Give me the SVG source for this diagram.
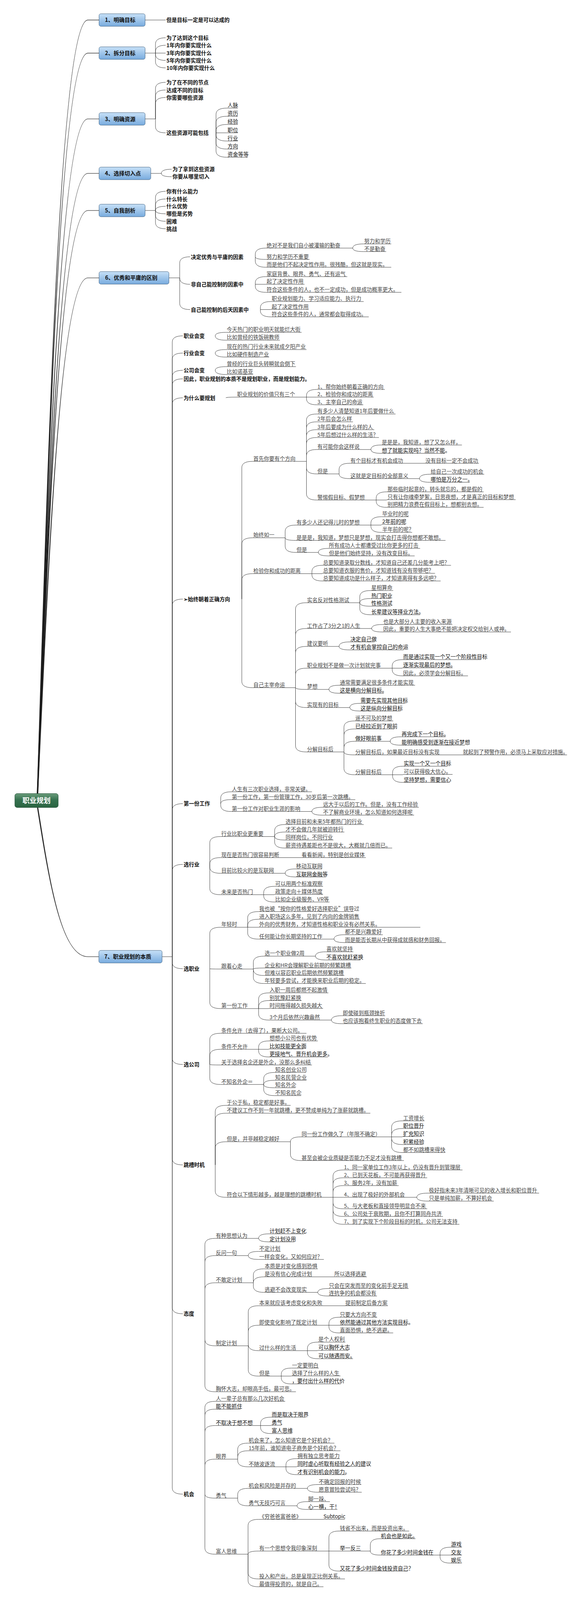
<svg xmlns="http://www.w3.org/2000/svg" width="1495" height="4595" viewBox="0 0 1495 4595">
<defs>
<linearGradient id="gb" x1="0" y1="0" x2="0" y2="1"><stop offset="0" stop-color="#c6e0f7"/><stop offset="1" stop-color="#78abde"/></linearGradient>
<linearGradient id="gr" x1="0" y1="0" x2="0" y2="1"><stop offset="0" stop-color="#6a9c7b"/><stop offset="0.45" stop-color="#367250"/><stop offset="1" stop-color="#2a6441"/></linearGradient>
<style>
text{font-family:"Noto Sans CJK SC","Liberation Sans",sans-serif;font-size:13.5px;fill:#444;transform-box:fill-box;transform-origin:50% 50%;transform:scale(1,1.1218)}
.b{font-weight:bold;fill:#111}
.d{fill:#111}
.bx{font-weight:bold;font-size:14px;fill:#111}
.rt{font-weight:bold;font-size:18px;fill:#fff}
.u{stroke:#333;stroke-width:1;fill:none}
.c{stroke:#333;stroke-width:1;fill:none}
.rc{fill:#1c1c1c;stroke:#1c1c1c;stroke-width:0.3}
.box{fill:url(#gb);stroke:#40607f;stroke-width:1}
</style>
</defs>
<rect width="1495" height="4595" fill="#fff"/>
<g id="diagram" transform="scale(1 0.8914)">
<g id="connectors">
<path class="rc" d="M 94.7 2281 C 122.7 1280.4 154 57 225 57 L 253.5 57 L 253.5 58 L 225 58 C 154 58 125.3 1280.4 97.3 2281 Z"/>
<path class="rc" d="M 94.7 2281 C 122.7 1323.2 154 152 225 152 L 253.5 152 L 253.5 153 L 225 153 C 154 153 125.3 1323.2 97.3 2281 Z"/>
<path class="rc" d="M 94.7 2281 C 122.7 1408.2 154 341 225 341 L 253.5 341 L 253.5 342 L 225 342 C 154 342 125.3 1408.2 97.3 2281 Z"/>
<path class="rc" d="M 94.7 2281 C 122.7 1478.6 154 497.5 225 497.5 L 253.5 497.5 L 253.5 498.5 L 225 498.5 C 154 498.5 125.3 1478.6 97.3 2281 Z"/>
<path class="rc" d="M 94.7 2281 C 122.7 1526.6 154 604 225 604 L 253.5 604 L 253.5 605 L 225 605 C 154 605 125.3 1526.6 97.3 2281 Z"/>
<path class="rc" d="M 94.7 2281 C 122.7 1613.6 154 797.5 225 797.5 L 253.5 797.5 L 253.5 798.5 L 225 798.5 C 154 798.5 125.3 1613.6 97.3 2281 Z"/>
<path class="rc" d="M 94.7 2317 C 122.7 2510.7 154 2748 225 2748 L 253 2748 L 253 2747 L 225 2747 C 154 2747 125.3 2510.7 97.3 2317 Z"/>
<path class="c" d="M 371.5 57.5 H 424"/>
<path class="c" d="M 371.5 152.5 H 398 M 398 152.5 V 126.5 Q 398 108.5 424 108.5 M 398 152.5 V 148 Q 398 130 424 130 M 398 152.5 H 424 M 398 152.5 V 155.5 Q 398 173.5 424 173.5 M 398 152.5 V 177 Q 398 195 424 195"/>
<path class="c" d="M 371.5 341.5 H 398 M 398 341.5 V 254.5 Q 398 236.5 424 236.5 M 398 341.5 V 276.5 Q 398 258.5 424 258.5 M 398 341.5 V 298 Q 398 280 424 280 M 398 341.5 V 363.5 Q 398 381.5 424 381.5"/>
<path class="c" d="M 553 381.5 V 328.5 Q 553 310.5 580.5 310.5 M 553 381.5 V 352 Q 553 334 580.5 334 M 553 381.5 V 375.5 Q 553 357.5 580.5 357.5 M 553 381.5 H 580.5 M 553 381.5 V 387 Q 553 405 580.5 405 M 553 381.5 V 410 Q 553 428 580.5 428 M 553 381.5 V 433.5 Q 553 451.5 580.5 451.5"/>
<path class="c" d="M 386 498 H 413 M 413 498 Q 413 486 439.5 486 M 413 498 Q 413 507.5 439.5 507.5"/>
<path class="c" d="M 371.5 604.5 H 398 M 398 604.5 V 567.5 Q 398 549.5 424 549.5 M 398 604.5 V 589.5 Q 398 571.5 424 571.5 M 398 604.5 Q 398 592.5 424 592.5 M 398 604.5 Q 398 614 424 614 M 398 604.5 V 617.5 Q 398 635.5 424 635.5 M 398 604.5 V 639 Q 398 657 424 657"/>
<path class="c" d="M 432.5 798 H 460 M 460 798 V 755.5 Q 460 737.5 486.5 737.5 M 460 798 V 798.5 Q 460 816.5 486.5 816.5 M 460 798 V 871 Q 460 889 486.5 889"/>
<path class="c" d="M 653.5 737.5 V 730.5 Q 653.5 712.5 680.5 712.5 M 653.5 737.5 Q 653.5 745 680.5 745 M 653.5 737.5 V 749.5 Q 653.5 767.5 680.5 767.5 M 903 712.5 Q 903 700.5 930.5 700.5 M 903 712.5 Q 903 722.5 930.5 722.5"/>
<path class="c" d="M 653.5 816.5 V 812.5 Q 653.5 794.5 680.5 794.5 M 653.5 816.5 H 680.5 M 653.5 816.5 V 821.5 Q 653.5 839.5 680.5 839.5"/>
<path class="c" d="M 666.5 889 V 884 Q 666.5 866 693.5 866 M 666.5 889 H 693.5 M 666.5 889 V 892 Q 666.5 910 693.5 910"/>
<path class="c" d="M 415 2747.5 H 441 M 441 2747.5 V 982.5 Q 441 964.5 468 964.5 M 441 2747.5 V 1032 Q 441 1014 468 1014 M 441 2747.5 V 1081.5 Q 441 1063.5 468 1063.5 M 441 2747.5 V 1106 Q 441 1088 468 1088 M 441 2747.5 V 1160.5 Q 441 1142.5 468 1142.5 M 441 2747.5 V 1738.5 Q 441 1720.5 468 1720.5 M 441 2747.5 V 2326 Q 441 2308 468 2308 M 441 2747.5 V 2500.5 Q 441 2482.5 468 2482.5 M 441 2747.5 V 2764 Q 441 2782 468 2782 M 441 2747.5 V 3039 Q 441 3057 468 3057 M 441 2747.5 V 3327.5 Q 441 3345.5 468 3345.5 M 441 2747.5 V 3755 Q 441 3773 468 3773 M 441 2747.5 V 4273 Q 441 4291 468 4291"/>
<path class="c" d="M 551 964.5 Q 551 954.5 578.5 954.5 M 551 964.5 Q 551 977 578.5 977 M 551 1014 Q 551 1004 578.5 1004 M 551 1014 Q 551 1025.5 578.5 1025.5 M 551 1063.5 Q 551 1053 578.5 1053 M 551 1063.5 Q 551 1075.5 578.5 1075.5 M 578 1142.5 Q 578 1140.5 605 1140.5"/>
<path class="c" d="M 784.5 1140.5 V 1136.5 Q 784.5 1118.5 810.5 1118.5 M 784.5 1140.5 H 810.5 M 784.5 1140.5 V 1144.5 Q 784.5 1162.5 810.5 1162.5"/>
<path class="c" d="M 619 1720.5 V 1343 Q 619 1325 646.5 1325 M 619 1720.5 V 1562.5 Q 619 1544.5 646.5 1544.5 M 619 1720.5 V 1665.5 Q 619 1647.5 646.5 1647.5 M 619 1720.5 V 1957 Q 619 1975 646.5 1975"/>
<path class="c" d="M 784.5 1325 V 1207 Q 784.5 1189 810.5 1189 M 784.5 1325 V 1229.5 Q 784.5 1211.5 810.5 1211.5 M 784.5 1325 V 1252 Q 784.5 1234 810.5 1234 M 784.5 1325 V 1274.5 Q 784.5 1256.5 810.5 1256.5 M 784.5 1325 V 1309 Q 784.5 1291 810.5 1291 M 784.5 1325 V 1343 Q 784.5 1361 810.5 1361 M 784.5 1325 V 1418 Q 784.5 1436 810.5 1436"/>
<path class="c" d="M 949.5 1291 Q 949.5 1278 975.5 1278 M 949.5 1291 Q 949.5 1302 975.5 1302 M 868 1361 V 1348.5 Q 868 1330.5 895 1330.5 M 868 1361 Q 868 1374.5 895 1374.5 M 1060 1330.5 H 1087 M 1074 1374.5 Q 1074 1362 1100.5 1362 M 1074 1374.5 Q 1074 1385 1100.5 1385"/>
<path class="c" d="M 963 1436 V 1430.5 Q 963 1412.5 990 1412.5 M 963 1436 H 990 M 963 1436 V 1439 Q 963 1457 990 1457"/>
<path class="c" d="M 730 1544.5 V 1526 Q 730 1508 757 1508 M 730 1544.5 Q 730 1552 757 1552 M 730 1544.5 V 1568.5 Q 730 1586.5 757 1586.5 M 949.5 1508 V 1502 Q 949.5 1484 976.5 1484 M 949.5 1508 H 976.5 M 949.5 1508 V 1511 Q 949.5 1529 976.5 1529 M 815 1586.5 Q 815 1575 840 1575 M 815 1586.5 Q 815 1596.5 840 1596.5"/>
<path class="c" d="M 798.5 1647.5 V 1641.5 Q 798.5 1623.5 825 1623.5 M 798.5 1647.5 H 825 M 798.5 1647.5 V 1650.5 Q 798.5 1668.5 825 1668.5"/>
<path class="c" d="M 756.5 1975 V 1749 Q 756.5 1731 784 1731 M 756.5 1975 V 1823 Q 756.5 1805 784 1805 M 756.5 1975 V 1874.5 Q 756.5 1856.5 784 1856.5 M 756.5 1975 V 1937 Q 756.5 1919 784 1919 M 756.5 1975 Q 756.5 1980 784 1980 M 756.5 1975 V 2014 Q 756.5 2032 784 2032 M 756.5 1975 V 2141.5 Q 756.5 2159.5 784 2159.5"/>
<path class="c" d="M 921 1731 V 1714 Q 921 1696 948.5 1696 M 921 1731 Q 921 1719 948.5 1719 M 921 1731 Q 921 1741 948.5 1741 M 921 1731 V 1747.5 Q 921 1765.5 948.5 1765.5"/>
<path class="c" d="M 951.5 1805 Q 951.5 1793.5 979 1793.5 M 951.5 1805 Q 951.5 1815 979 1815 M 868 1856.5 Q 868 1843.5 895 1843.5 M 868 1856.5 Q 868 1866.5 895 1866.5"/>
<path class="c" d="M 1004 1919 V 1912.5 Q 1004 1894.5 1030 1894.5 M 1004 1919 H 1030 M 1004 1919 V 1923 Q 1004 1941 1030 1941"/>
<path class="c" d="M 842 1980 Q 842 1968 868 1968 M 842 1980 Q 842 1991 868 1991 M 895.5 2032 Q 895.5 2020 921 2020 M 895.5 2032 Q 895.5 2042 921 2042"/>
<path class="c" d="M 880.5 2159.5 V 2088.5 Q 880.5 2070.5 907.5 2070.5 M 880.5 2159.5 V 2111.5 Q 880.5 2093.5 907.5 2093.5 M 880.5 2159.5 V 2147 Q 880.5 2129 907.5 2129 M 880.5 2159.5 Q 880.5 2168 907.5 2168 M 880.5 2159.5 V 2207 Q 880.5 2225 907.5 2225 M 1157 2168 H 1183"/>
<path class="c" d="M 999 2129 Q 999 2116 1026 2116 M 999 2129 Q 999 2140 1026 2140 M 1005 2225 V 2218.5 Q 1005 2200.5 1031.5 2200.5 M 1005 2225 H 1031.5 M 1005 2225 V 2229 Q 1005 2247 1031.5 2247"/>
<path class="c" d="M 565 2308 V 2292 Q 565 2274 591.5 2274 M 565 2308 Q 565 2296.5 591.5 2296.5 M 565 2308 V 2312.5 Q 565 2330.5 591.5 2330.5 M 798.5 2330.5 Q 798.5 2318.5 825 2318.5 M 798.5 2330.5 Q 798.5 2341 825 2341"/>
<path class="c" d="M 537 2482.5 V 2420.5 Q 537 2402.5 564.5 2402.5 M 537 2482.5 V 2481 Q 537 2463 564.5 2463 M 537 2482.5 V 2490 Q 537 2508 564.5 2508 M 537 2482.5 V 2551.5 Q 537 2569.5 564.5 2569.5 M 745 2463 H 770"/>
<path class="c" d="M 703 2402.5 V 2386 Q 703 2368 729 2368 M 703 2402.5 Q 703 2389.5 729 2389.5 M 703 2402.5 Q 703 2412.5 729 2412.5 M 703 2402.5 V 2417.5 Q 703 2435.5 729 2435.5 M 730 2508 Q 730 2495.5 756 2495.5 M 730 2508 Q 730 2518.5 756 2518.5"/>
<path class="c" d="M 675 2569.5 V 2563.5 Q 675 2545.5 702.5 2545.5 M 675 2569.5 H 702.5 M 675 2569.5 V 2572.5 Q 675 2590.5 702.5 2590.5"/>
<path class="c" d="M 537 2782 V 2681 Q 537 2663 564.5 2663 M 537 2782 Q 537 2783 564.5 2783 M 537 2782 V 2878.5 Q 537 2896.5 564.5 2896.5"/>
<path class="c" d="M 634 2663 V 2636 Q 634 2618 661.5 2618 M 634 2663 V 2658 Q 634 2640 661.5 2640 M 634 2663 H 661.5 M 634 2663 V 2679 Q 634 2697 661.5 2697 M 855 2697 Q 855 2684.5 881 2684.5 M 855 2697 Q 855 2707 881 2707"/>
<path class="c" d="M 648.5 2783 V 2764 Q 648.5 2746 675.5 2746 M 648.5 2783 Q 648.5 2780 675.5 2780 M 648.5 2783 V 2783.5 Q 648.5 2801.5 675.5 2801.5 M 648.5 2783 V 2806.5 Q 648.5 2824.5 675.5 2824.5 M 807.5 2746 Q 807.5 2733.5 833.5 2733.5 M 807.5 2746 Q 807.5 2757 833.5 2757"/>
<path class="c" d="M 662 2896.5 V 2869.5 Q 662 2851.5 688 2851.5 M 662 2896.5 V 2891.5 Q 662 2873.5 688 2873.5 M 662 2896.5 H 688 M 662 2896.5 V 2911.5 Q 662 2929.5 688 2929.5 M 848.5 2929.5 Q 848.5 2917 875.5 2917 M 848.5 2929.5 Q 848.5 2940 875.5 2940"/>
<path class="c" d="M 537 3057 V 2985.5 Q 537 2967.5 564.5 2967.5 M 537 3057 V 3031.5 Q 537 3013.5 564.5 3013.5 M 537 3057 Q 537 3058.5 564.5 3058.5 M 537 3057 V 3096.5 Q 537 3114.5 564.5 3114.5"/>
<path class="c" d="M 662 3013.5 V 3007.5 Q 662 2989.5 688 2989.5 M 662 3013.5 H 688 M 662 3013.5 V 3017.5 Q 662 3035.5 688 3035.5 M 675 3114.5 V 3098 Q 675 3080 702.5 3080 M 675 3114.5 Q 675 3102.5 702.5 3102.5 M 675 3114.5 Q 675 3124 702.5 3124 M 675 3114.5 V 3128.5 Q 675 3146.5 702.5 3146.5"/>
<path class="c" d="M 551 3345.5 V 3192.5 Q 551 3174.5 578.5 3174.5 M 551 3345.5 V 3215 Q 551 3197 578.5 3197 M 551 3345.5 V 3297 Q 551 3279 578.5 3279 M 551 3345.5 V 3420.5 Q 551 3438.5 578.5 3438.5"/>
<path class="c" d="M 743.5 3279 Q 743.5 3265 770 3265 M 743.5 3279 V 3315 Q 743.5 3333 770 3333 M 1002.5 3265 V 3237 Q 1002.5 3219 1030 3219 M 1002.5 3265 V 3259 Q 1002.5 3241 1030 3241 M 1002.5 3265 H 1030 M 1002.5 3265 V 3269 Q 1002.5 3287 1030 3287 M 1002.5 3265 V 3292 Q 1002.5 3310 1030 3310"/>
<path class="c" d="M 852.5 3438.5 V 3378 Q 852.5 3360 878.5 3360 M 852.5 3438.5 V 3400.5 Q 852.5 3382.5 878.5 3382.5 M 852.5 3438.5 V 3423 Q 852.5 3405 878.5 3405 M 852.5 3438.5 H 878.5 M 852.5 3438.5 V 3453.5 Q 852.5 3471.5 878.5 3471.5 M 852.5 3438.5 V 3475.5 Q 852.5 3493.5 878.5 3493.5 M 852.5 3438.5 V 3498 Q 852.5 3516 878.5 3516 M 1067 3438.5 Q 1067 3426.5 1096 3426.5 M 1067 3438.5 Q 1067 3449.5 1096 3449.5"/>
<path class="c" d="M 524.5 3773 V 3574.5 Q 524.5 3556.5 550.5 3556.5 M 524.5 3773 V 3624 Q 524.5 3606 550.5 3606 M 524.5 3773 V 3702 Q 524.5 3684 550.5 3684 M 524.5 3773 V 3847 Q 524.5 3865 550.5 3865 M 524.5 3773 V 3979 Q 524.5 3997 550.5 3997"/>
<path class="c" d="M 662 3556.5 Q 662 3543.5 688 3543.5 M 662 3556.5 Q 662 3566.5 688 3566.5 M 635.5 3606 Q 635.5 3594 661.5 3594 M 635.5 3606 Q 635.5 3617 661.5 3617"/>
<path class="c" d="M 648.5 3684 V 3662 Q 648.5 3644 675.5 3644 M 648.5 3684 Q 648.5 3667 675.5 3667 M 648.5 3684 V 3693.5 Q 648.5 3711.5 675.5 3711.5 M 830 3667 H 854 M 813.5 3711.5 Q 813.5 3700.5 840 3700.5 M 813.5 3711.5 Q 813.5 3722 840 3722"/>
<path class="c" d="M 635.5 3865 V 3768 Q 635.5 3750 661.5 3750 M 635.5 3865 V 3824 Q 635.5 3806 661.5 3806 M 635.5 3865 V 3861 Q 635.5 3879 661.5 3879 M 635.5 3865 V 3934 Q 635.5 3952 661.5 3952 M 850 3750 H 882"/>
<path class="c" d="M 842 3806 V 3801 Q 842 3783 868 3783 M 842 3806 H 868 M 842 3806 V 3810 Q 842 3828 868 3828 M 787 3879 V 3872.5 Q 787 3854.5 813 3854.5 M 787 3879 H 813 M 787 3879 V 3884 Q 787 3902 813 3902 M 720 3952 V 3947 Q 720 3929 745.5 3929 M 720 3952 H 745.5 M 720 3952 V 3956.5 Q 720 3974.5 745.5 3974.5"/>
<path class="c" d="M 524.5 4291 V 4042.5 Q 524.5 4024.5 550.5 4024.5 M 524.5 4291 V 4065 Q 524.5 4047 550.5 4047 M 524.5 4291 V 4112 Q 524.5 4094 550.5 4094 M 524.5 4291 V 4208.5 Q 524.5 4190.5 550.5 4190.5 M 524.5 4291 Q 524.5 4302.5 550.5 4302.5 M 524.5 4291 V 4445.5 Q 524.5 4463.5 550.5 4463.5"/>
<path class="c" d="M 667 4094 V 4088 Q 667 4070 693.5 4070 M 667 4094 H 693.5 M 667 4094 V 4099 Q 667 4117 693.5 4117"/>
<path class="c" d="M 608.5 4190.5 V 4162.5 Q 608.5 4144.5 634.5 4144.5 M 608.5 4190.5 V 4184.5 Q 608.5 4166.5 634.5 4166.5 M 608.5 4190.5 V 4194.5 Q 608.5 4212.5 634.5 4212.5 M 732 4212.5 V 4207 Q 732 4189 759.5 4189 M 732 4212.5 H 759.5 M 732 4212.5 V 4217 Q 732 4235 759.5 4235"/>
<path class="c" d="M 608.5 4302.5 V 4292.5 Q 608.5 4274.5 634.5 4274.5 M 608.5 4302.5 V 4306.5 Q 608.5 4324.5 634.5 4324.5 M 787 4274.5 Q 787 4263.5 814 4263.5 M 787 4274.5 Q 787 4285.5 814 4285.5 M 760.5 4324.5 Q 760.5 4312.5 787 4312.5 M 760.5 4324.5 Q 760.5 4335 787 4335"/>
<path class="c" d="M 635 4463.5 V 4381.5 Q 635 4363.5 661.5 4363.5 M 635 4463.5 Q 635 4454.5 661.5 4454.5 M 635 4463.5 V 4516.5 Q 635 4534.5 661.5 4534.5 M 635 4463.5 V 4539 Q 635 4557 661.5 4557 M 800 4363.5 H 826"/>
<path class="c" d="M 842 4454.5 V 4415 Q 842 4397 868 4397 M 842 4454.5 H 868 M 842 4454.5 V 4494 Q 842 4512 868 4512 M 948 4454.5 V 4437 Q 948 4419 973 4419 M 948 4454.5 Q 948 4466 973 4466 M 1126.5 4466 V 4461.5 Q 1126.5 4443.5 1152.5 4443.5 M 1126.5 4466 H 1152.5 M 1126.5 4466 V 4471 Q 1126.5 4489 1152.5 4489"/>
</g>
<g id="root"><rect x="38" y="2279" width="111" height="40" rx="6" fill="url(#gr)" stroke="#1f4c33"/><text class="rt" x="93.5" y="2305" text-anchor="middle">职业规划</text></g>
<g id="s1"><rect class="box" x="253.5" y="39.5" width="118" height="36" rx="5"/><text class="bx" x="268.5" y="62.5">1、明确目标</text></g>
<g id="s1a"><text class="b" x="426" y="62.5">但是目标一定是可以达成的</text></g>
<g id="s2"><rect class="box" x="253.5" y="134.5" width="118" height="36" rx="5"/><text class="bx" x="268.5" y="157.5">2、拆分目标</text></g>
<g id="s2a"><text class="b" x="426" y="113.5">为了达到这个目标</text></g>
<g id="s2b"><text class="b" x="426" y="135">1年内你要实现什么</text></g>
<g id="s2c"><text class="b" x="426" y="157">3年内你要实现什么</text></g>
<g id="s2d"><text class="b" x="426" y="178.5">5年内你要实现什么</text></g>
<g id="s2e"><text class="b" x="426" y="200">10年内你要实现什么</text></g>
<g id="s3"><rect class="box" x="253.5" y="323.5" width="118" height="36" rx="5"/><text class="bx" x="268.5" y="346.5">3、明确资源</text></g>
<g id="s3a"><text class="b" x="426" y="241.5">为了在不同的节点</text></g>
<g id="s3b"><text class="b" x="426" y="263.5">达成不同的目标</text></g>
<g id="s3c"><text class="b" x="426" y="285">你需要哪些资源</text></g>
<g id="s3d"><text class="b" x="426" y="386.5">这些资源可能包括</text></g>
<g id="s3d1"><text class="d" x="582.5" y="307">人脉</text><path class="u" d="M 580.5 310.5 H 609"/></g>
<g id="s3d2"><text class="d" x="582.5" y="330.5">资历</text><path class="u" d="M 580.5 334 H 609"/></g>
<g id="s3d3"><text class="d" x="582.5" y="354">经验</text><path class="u" d="M 580.5 357.5 H 609"/></g>
<g id="s3d4"><text class="d" x="582.5" y="378">职位</text><path class="u" d="M 580.5 381.5 H 609"/></g>
<g id="s3d5"><text class="d" x="582.5" y="401.5">行业</text><path class="u" d="M 580.5 405 H 609"/></g>
<g id="s3d6"><text class="d" x="582.5" y="424.5">方向</text><path class="u" d="M 580.5 428 H 609"/></g>
<g id="s3d7"><text class="d" x="582.5" y="448">资金等等</text><path class="u" d="M 580.5 451.5 H 634"/></g>
<g id="s4"><rect class="box" x="253.5" y="480" width="132.5" height="36" rx="5"/><text class="bx" x="268.5" y="503">4、选择切入点</text></g>
<g id="s4a"><text class="b" x="441.5" y="491">为了拿到这些资源</text></g>
<g id="s4b"><text class="b" x="441.5" y="512.5">你要从哪里切入</text></g>
<g id="s5"><rect class="box" x="253.5" y="586.5" width="118" height="36" rx="5"/><text class="bx" x="268.5" y="609.5">5、自我剖析</text></g>
<g id="s5a"><text class="b" x="426" y="554.5">你有什么能力</text></g>
<g id="s5b"><text class="b" x="426" y="576.5">什么特长</text></g>
<g id="s5c"><text class="b" x="426" y="597.5">什么优势</text></g>
<g id="s5d"><text class="b" x="426" y="619">哪些是劣势</text></g>
<g id="s5e"><text class="b" x="426" y="640.5">困难</text></g>
<g id="s5f"><text class="b" x="426" y="662">挑战</text></g>
<g id="s6"><rect class="box" x="253.5" y="780" width="179" height="36" rx="5"/><text class="bx" x="269" y="803">6、优秀和平庸的区别</text></g>
<g id="s6a"><text class="b" x="488.5" y="742.5">决定优秀与平庸的因素</text></g>
<g id="s6a1"><text x="682.5" y="709">绝对不是我们自小被灌输的勤奋</text><path class="u" d="M 680.5 712.5 H 903"/></g>
<g id="s6a1a"><text x="932.5" y="697">努力和学历</text><path class="u" d="M 930.5 700.5 H 1001.5"/></g>
<g id="s6a1b"><text x="932.5" y="719">不是勤奋</text><path class="u" d="M 930.5 722.5 H 988.5"/></g>
<g id="s6a2"><text x="682.5" y="741.5">努力和学历不重要</text><path class="u" d="M 680.5 745 H 792.5"/></g>
<g id="s6a3"><text x="682.5" y="764">而是他们不起决定性作用。很残酷，但这就是现实。</text><path class="u" d="M 680.5 767.5 H 1001.5"/></g>
<g id="s6b"><text class="b" x="488.5" y="821.5">非自己能控制的因素中</text></g>
<g id="s6b1"><text x="682.5" y="791">家庭背景、眼界、勇气、还有运气</text><path class="u" d="M 680.5 794.5 H 889"/></g>
<g id="s6b2"><text x="682.5" y="813">起了决定性作用</text><path class="u" d="M 680.5 816.5 H 779.5"/></g>
<g id="s6b3"><text x="682.5" y="836">符合这些条件的人，也不一定成功，但是成功概率更大。</text><path class="u" d="M 680.5 839.5 H 1027.5"/></g>
<g id="s6c"><text class="b" x="488.5" y="894">自己能控制的后天因素中</text></g>
<g id="s6c1"><text x="695.5" y="862.5">职业规划能力、学习适应能力、执行力</text><path class="u" d="M 693.5 866 H 931"/></g>
<g id="s6c2"><text x="695.5" y="885">起了决定性作用</text><path class="u" d="M 693.5 888.5 H 790.5"/></g>
<g id="s6c3"><text x="695.5" y="906.5">符合这些条件的人，通常都会取得成功。</text><path class="u" d="M 693.5 910 H 944"/></g>
<g id="s7"><rect class="box" x="253" y="2729.5" width="162" height="36" rx="5"/><text class="bx" x="267" y="2752.5">7、职业规划的本质</text></g>
<g id="a1"><text class="b" x="470" y="969.5">职业会变</text></g>
<g id="a1a"><text x="580.5" y="951">今天热门的职业明天就能烂大街</text><path class="u" d="M 578.5 954.5 H 772"/></g>
<g id="a1b"><text x="580.5" y="973.5">比如曾经的铁饭碗教师</text><path class="u" d="M 578.5 977 H 716.5"/></g>
<g id="a2"><text class="b" x="470" y="1019">行业会变</text></g>
<g id="a2a"><text x="580.5" y="1000.5">现在的热门行业未来就成夕阳产业</text><path class="u" d="M 578.5 1004 H 784.5"/></g>
<g id="a2b"><text x="580.5" y="1022">比如硬件制造产业</text><path class="u" d="M 578.5 1025.5 H 689"/></g>
<g id="a3"><text class="b" x="470" y="1068.5">公司会变</text></g>
<g id="a3a"><text x="580.5" y="1049.5">曾经的行业巨头转瞬就会倒下</text><path class="u" d="M 578.5 1053 H 757.5"/></g>
<g id="a3b"><text x="580.5" y="1072">比如诺基亚</text><path class="u" d="M 578.5 1075.5 H 648"/></g>
<g id="a4"><text class="b" x="470" y="1093">因此，职业规划的本质不是规划职业，而是规划能力。</text></g>
<g id="a5"><text class="b" x="470" y="1147.5">为什么要规划</text></g>
<g id="a5a"><text x="607" y="1137">职业规划的价值只有三个</text><path class="u" d="M 605 1140.5 H 784.5"/></g>
<g id="a5a1"><text x="812.5" y="1115">1、帮你始终朝着正确的方向</text><path class="u" d="M 810.5 1118.5 H 985"/></g>
<g id="a5a2"><text x="812.5" y="1137">2、检验你和成功的距离</text><path class="u" d="M 810.5 1140.5 H 956.5"/></g>
<g id="a5a3"><text x="812.5" y="1159">3、主宰自己的命运</text><path class="u" d="M 810.5 1162.5 H 930"/></g>
<g id="a6"><text class="b" x="470" y="1725.5">➢始终朝着正确方向</text></g>
<g id="b1"><text x="648.5" y="1321.5">首先你要有个方向</text><path class="u" d="M 646.5 1325 H 784.5"/></g>
<g id="b1a"><text x="812.5" y="1185.5">有多少人清楚知道1年后要做什么</text><path class="u" d="M 810.5 1189 H 1012.5"/></g>
<g id="b1b"><text x="812.5" y="1208">2年后会怎么样</text><path class="u" d="M 810.5 1211.5 H 903.5"/></g>
<g id="b1c"><text x="812.5" y="1230.5">3年后要成为什么样的人</text><path class="u" d="M 810.5 1234 H 958"/></g>
<g id="b1d"><text x="812.5" y="1253">5年后想过什么样的生活？</text><path class="u" d="M 810.5 1256.5 H 970"/></g>
<g id="b1e"><text x="812.5" y="1287.5">有可能你会这样说</text><path class="u" d="M 810.5 1291 H 949.5"/></g>
<g id="b1e1"><text x="977.5" y="1274.5">是是是，我知道，想了又怎么样，</text><path class="u" d="M 975.5 1278 H 1182.5"/></g>
<g id="b1e2"><text class="d" x="977.5" y="1298.5">想了就能实现吗？当然不能。</text><path class="u" d="M 975.5 1302 H 1139"/></g>
<g id="b1f"><text x="812.5" y="1357.5">但是</text><path class="u" d="M 810.5 1361 H 868"/></g>
<g id="b1f1"><text x="897" y="1327">有个目标才有机会成功</text><path class="u" d="M 895 1330.5 H 1060"/></g>
<g id="b1f1a"><text x="1089" y="1327">没有目标一定不会成功</text><path class="u" d="M 1087 1330.5 H 1226"/></g>
<g id="b1f2"><text x="897" y="1371">这就是定目标的全部意义</text><path class="u" d="M 895 1374.5 H 1074"/></g>
<g id="b1f2a"><text x="1102.5" y="1358.5">给自己一次成功的机会</text><path class="u" d="M 1100.5 1362 H 1239.5"/></g>
<g id="b1f2b"><text class="d" x="1102.5" y="1381.5">哪怕是万分之一。</text><path class="u" d="M 1100.5 1385 H 1202.5"/></g>
<g id="b1g"><text x="812.5" y="1432.5">警惕假目标、假梦想</text><path class="u" d="M 810.5 1436 H 963"/></g>
<g id="b1g1"><text x="992" y="1409">那些临时起意的，转头就忘的，都是假的</text><path class="u" d="M 990 1412.5 H 1238"/></g>
<g id="b1g2"><text x="992" y="1431.5">只有让你魂牵梦絮，日思夜想，才是真正的目标和梦想</text><path class="u" d="M 990 1435 H 1320"/></g>
<g id="b1g3"><text x="992" y="1453.5">别把精力浪费在假目标上，想都别去想。</text><path class="u" d="M 990 1457 H 1238"/></g>
<g id="b2"><text x="648.5" y="1541">始终如一</text><path class="u" d="M 646.5 1544.5 H 730"/></g>
<g id="b2a"><text x="759" y="1504.5">有多少人还记得儿时的梦想</text><path class="u" d="M 757 1508 H 949.5"/></g>
<g id="b2a1"><text x="978.5" y="1480.5">毕业时的呢</text><path class="u" d="M 976.5 1484 H 1046"/></g>
<g id="b2a2"><text class="d" x="978.5" y="1502.5">2年前的呢</text><path class="u" d="M 976.5 1506 H 1037"/></g>
<g id="b2a3"><text x="978.5" y="1525.5">半年前的呢？</text><path class="u" d="M 976.5 1529 H 1055"/></g>
<g id="b2b"><text x="759" y="1548.5">是是是，我知道，梦想只是梦想，现实会打击得你想都不敢想。</text><path class="u" d="M 757 1552 H 1140.5"/></g>
<g id="b2c"><text x="759" y="1583">但是</text><path class="u" d="M 757 1586.5 H 815"/></g>
<g id="b2c1"><text x="842" y="1571.5">所有成功人士都遭受过比你更多的打击</text><path class="u" d="M 840 1575 H 1075.5"/></g>
<g id="b2c2"><text x="842" y="1593">但是他们始终坚持，没有改变目标。</text><path class="u" d="M 840 1596.5 H 1061.5"/></g>
<g id="b3"><text x="648.5" y="1644">检验你和成功的距离</text><path class="u" d="M 646.5 1647.5 H 798.5"/></g>
<g id="b3a"><text x="827" y="1620">总要知道录取分数线，才知道自己还差几分能考上吧？</text><path class="u" d="M 825 1623.5 H 1154.5"/></g>
<g id="b3b"><text x="827" y="1643">总要知道衣服的售价，才知道钱有没有带够吧？</text><path class="u" d="M 825 1646.5 H 1113.5"/></g>
<g id="b3c"><text x="827" y="1665">总要知道成功是什么样子，才知道离得有多远吧？</text><path class="u" d="M 825 1668.5 H 1128"/></g>
<g id="b4"><text x="648.5" y="1971.5">自己主宰命运</text><path class="u" d="M 646.5 1975 H 756.5"/></g>
<g id="b4a"><text x="786" y="1727.5">实名反对性格测试</text><path class="u" d="M 784 1731 H 921"/></g>
<g id="b4a1"><text x="950.5" y="1692.5">星相算命</text><path class="u" d="M 948.5 1696 H 1006.5"/></g>
<g id="b4a2"><text class="d" x="950.5" y="1715.5">热门职业</text><path class="u" d="M 948.5 1719 H 1000"/></g>
<g id="b4a3"><text class="d" x="950.5" y="1737.5">性格测试</text><path class="u" d="M 948.5 1741 H 1000"/></g>
<g id="b4a4"><text class="d" x="950.5" y="1762">长辈建议等择业方法。</text><path class="u" d="M 948.5 1765.5 H 1075.5"/></g>
<g id="b4b"><text x="786" y="1801.5">工作占了3分之1的人生</text><path class="u" d="M 784 1805 H 951.5"/></g>
<g id="b4b1"><text x="981" y="1790">也是大部分人主要的收入来源</text><path class="u" d="M 979 1793.5 H 1158"/></g>
<g id="b4b2"><text x="981" y="1811.5">因此，重要的人生大事绝不能把决定权交给别人或神。</text><path class="u" d="M 979 1815 H 1308"/></g>
<g id="b4c"><text x="786" y="1853">建议要听</text><path class="u" d="M 784 1856.5 H 868"/></g>
<g id="b4c1"><text class="d" x="897" y="1840">决定自己做</text><path class="u" d="M 895 1843.5 H 959"/></g>
<g id="b4c2"><text class="d" x="897" y="1863">才有机会掌控自己的命运</text><path class="u" d="M 895 1866.5 H 1033.5"/></g>
<g id="b4d"><text x="786" y="1915.5">职业规划不是做一次计划就完事</text><path class="u" d="M 784 1919 H 1004"/></g>
<g id="b4d1"><text class="d" x="1032" y="1891">而是通过实现一个又一个阶段性目标</text><path class="u" d="M 1030 1894.5 H 1231.5"/></g>
<g id="b4d2"><text class="d" x="1032" y="1914.5">逐渐实现最后的梦想。</text><path class="u" d="M 1030 1918 H 1158.5"/></g>
<g id="b4d3"><text x="1032" y="1937.5">因此，必须学会分解目标。</text><path class="u" d="M 1030 1941 H 1198"/></g>
<g id="b4e"><text x="786" y="1976.5">梦想</text><path class="u" d="M 784 1980 H 842"/></g>
<g id="b4e1"><text x="870" y="1964.5">通常需要满足很多条件才能实现</text><path class="u" d="M 868 1968 H 1062.5"/></g>
<g id="b4e2"><text class="d" x="870" y="1987.5">这是横向分解目标。</text><path class="u" d="M 868 1991 H 982.5"/></g>
<g id="b4f"><text x="786" y="2028.5">实现有的目标</text><path class="u" d="M 784 2032 H 895.5"/></g>
<g id="b4f1"><text class="d" x="923" y="2016.5">需要先实现其他目标</text><path class="u" d="M 921 2020 H 1037"/></g>
<g id="b4f2"><text class="d" x="923" y="2038.5">这是纵向分解目标</text><path class="u" d="M 921 2042 H 1024.5"/></g>
<g id="b4g"><text x="786" y="2156">分解目标后</text><path class="u" d="M 784 2159.5 H 880.5"/></g>
<g id="b4g1"><text x="909.5" y="2067">遥不可及的梦想</text><path class="u" d="M 907.5 2070.5 H 1006.5"/></g>
<g id="b4g2"><text class="d" x="909.5" y="2090">已经拉近到了眼前</text><path class="u" d="M 907.5 2093.5 H 1009"/></g>
<g id="b4g3"><text class="d" x="909.5" y="2125.5">做好眼前事</text><path class="u" d="M 907.5 2129 H 999"/></g>
<g id="b4g3a"><text class="d" x="1028" y="2112.5">再完成下一个目标。</text><path class="u" d="M 1026 2116 H 1140.5"/></g>
<g id="b4g3b"><text class="d" x="1028" y="2136.5">能明确感受到逐渐在接近梦想</text><path class="u" d="M 1026 2140 H 1190"/></g>
<g id="b4g4"><text x="909.5" y="2164.5">分解目标后，如果最近目标没有实现</text><path class="u" d="M 907.5 2168 H 1157"/></g>
<g id="b4g4a"><text x="1185" y="2164.5">就起到了预警作用，必须马上采取应对措施。</text><path class="u" d="M 1183 2168 H 1451.5"/></g>
<g id="b4g5"><text x="909.5" y="2221.5">分解目标后</text><path class="u" d="M 907.5 2225 H 1005"/></g>
<g id="b4g5a"><text class="d" x="1033.5" y="2197">实现一个又一个目标</text><path class="u" d="M 1031.5 2200.5 H 1145.5"/></g>
<g id="b4g5b"><text x="1033.5" y="2220.5">可以获得极大信心。</text><path class="u" d="M 1031.5 2224 H 1158.5"/></g>
<g id="b4g5c"><text class="d" x="1033.5" y="2243.5">坚持梦想，需要信心</text><path class="u" d="M 1031.5 2247 H 1147"/></g>
<g id="a7"><text class="b" x="470" y="2313">第一份工作</text></g>
<g id="c1"><text x="593.5" y="2270.5">人生有三次职业选择，非常关键。</text><path class="u" d="M 591.5 2274 H 798.5"/></g>
<g id="c2"><text x="593.5" y="2293">第一份工作，第一份管理工作，30岁后第一次跳槽。</text><path class="u" d="M 591.5 2296.5 H 909.5"/></g>
<g id="c3"><text x="593.5" y="2327">第一份工作对职业生涯的影响</text><path class="u" d="M 591.5 2330.5 H 798.5"/></g>
<g id="c3a"><text x="827" y="2315">远大于以后的工作。但是，没有工作经验</text><path class="u" d="M 825 2318.5 H 1072"/></g>
<g id="c3b"><text x="827" y="2337.5">不了解商业环境，怎么知道如何选择呢</text><path class="u" d="M 825 2341 H 1060"/></g>
<g id="a8"><text class="b" x="470" y="2487.5">选行业</text></g>
<g id="d1"><text x="566.5" y="2399">行业比职业更重要</text><path class="u" d="M 564.5 2402.5 H 703"/></g>
<g id="d1a"><text x="731" y="2364.5">选择目前和未来5年都热门的行业</text><path class="u" d="M 729 2368 H 931"/></g>
<g id="d1b"><text x="731" y="2386">才不会做几年就被迫转行</text><path class="u" d="M 729 2389.5 H 881.5"/></g>
<g id="d1c"><text x="731" y="2409">同样岗位，不同行业</text><path class="u" d="M 729 2412.5 H 853.5"/></g>
<g id="d1d"><text x="731" y="2432">薪资待遇差距也不是很大，大概就几倍而已。</text><path class="u" d="M 729 2435.5 H 1004"/></g>
<g id="d2"><text x="566.5" y="2459.5">现在是否热门很容易判断</text><path class="u" d="M 564.5 2463 H 745"/></g>
<g id="d2a"><text x="772" y="2459.5">看看新闻，特别是创业媒体</text><path class="u" d="M 770 2463 H 936.5"/></g>
<g id="d3"><text x="566.5" y="2504.5">目前比较火的是互联网</text><path class="u" d="M 564.5 2508 H 730"/></g>
<g id="d3a"><text x="758" y="2492">移动互联网</text><path class="u" d="M 756 2495.5 H 824.5"/></g>
<g id="d3b"><text class="d" x="758" y="2515">互联网金融等</text><path class="u" d="M 756 2518.5 H 833"/></g>
<g id="d4"><text x="566.5" y="2566">未来是否热门</text><path class="u" d="M 564.5 2569.5 H 675"/></g>
<g id="d4a"><text x="704.5" y="2542">可以用两个标准观察</text><path class="u" d="M 702.5 2545.5 H 827"/></g>
<g id="d4b"><text x="704.5" y="2565">政策走向＋媒体热度</text><path class="u" d="M 702.5 2568.5 H 827"/></g>
<g id="d4c"><text x="704.5" y="2587">比如企业级服务、VR等</text><path class="u" d="M 702.5 2590.5 H 843.5"/></g>
<g id="a9"><text class="b" x="470" y="2787">选职业</text></g>
<g id="e1"><text x="566.5" y="2659.5">年轻时</text><path class="u" d="M 564.5 2663 H 634"/></g>
<g id="e1a"><text x="663.5" y="2614.5">我也被“按你的性格爱好选择职业”误导过</text><path class="u" d="M 661.5 2618 H 905.5"/></g>
<g id="e1b"><text x="663.5" y="2636.5">进入职场这么多年，见到了内向的金牌销售</text><path class="u" d="M 661.5 2640 H 921"/></g>
<g id="e1c"><text x="663.5" y="2659.5">外向的优秀财务，才知道性格和职业没有必然关系。</text><path class="u" d="M 661.5 2663 H 1076"/></g>
<g id="e1d"><text x="663.5" y="2693.5">任何能让你长期坚持的工作</text><path class="u" d="M 661.5 2697 H 855"/></g>
<g id="e1d1"><text x="883" y="2681">都不是兴趣爱好</text><path class="u" d="M 881 2684.5 H 980"/></g>
<g id="e1d2"><text x="883" y="2703.5">而是能否长期从中获得成就感和财务回报。</text><path class="u" d="M 881 2707 H 1141.5"/></g>
<g id="e2"><text x="566.5" y="2779.5">跟着心走</text><path class="u" d="M 564.5 2783 H 648.5"/></g>
<g id="e2a"><text x="677.5" y="2742.5">选一个职业做2周</text><path class="u" d="M 675.5 2746 H 807.5"/></g>
<g id="e2a1"><text x="835.5" y="2730">喜欢就坚持</text><path class="u" d="M 833.5 2733.5 H 904.5"/></g>
<g id="e2a2"><text class="d" x="835.5" y="2753.5">不喜欢就赶紧换</text><path class="u" d="M 833.5 2757 H 923"/></g>
<g id="e2b"><text x="677.5" y="2776.5">企业和HR会理解职业前期的频繁跳槽</text><path class="u" d="M 675.5 2780 H 899.5"/></g>
<g id="e2c"><text x="677.5" y="2798">但难以容忍职业后期依然频繁跳槽</text><path class="u" d="M 675.5 2801.5 H 881.5"/></g>
<g id="e2d"><text x="677.5" y="2821">年轻要多尝试，才能换来职业后期的稳定。</text><path class="u" d="M 675.5 2824.5 H 936.5"/></g>
<g id="e3"><text x="566.5" y="2893">第一份工作</text><path class="u" d="M 564.5 2896.5 H 662"/></g>
<g id="e3a"><text x="690" y="2848">入职一周后都燃不起激情</text><path class="u" d="M 688 2851.5 H 840.5"/></g>
<g id="e3b"><text x="690" y="2870">别犹豫赶紧换</text><path class="u" d="M 688 2873.5 H 772"/></g>
<g id="e3c"><text x="690" y="2892.5">时间拖得越久损失越大</text><path class="u" d="M 688 2896 H 827"/></g>
<g id="e3d"><text x="690" y="2926">3个月后依然兴趣盎然</text><path class="u" d="M 688 2929.5 H 848.5"/></g>
<g id="e3d1"><text x="877.5" y="2913.5">即使碰到瓶颈挫折</text><path class="u" d="M 875.5 2917 H 986"/></g>
<g id="e3d2"><text x="877.5" y="2936.5">也应该抱着终生职业的态度做下去</text><path class="u" d="M 875.5 2940 H 1082"/></g>
<g id="a10"><text class="b" x="470" y="3062">选公司</text></g>
<g id="f1"><text x="566.5" y="2964">条件允许（去得了），果断大公司。</text><path class="u" d="M 564.5 2967.5 H 784.5"/></g>
<g id="f2"><text x="566.5" y="3010">条件不允许</text><path class="u" d="M 564.5 3013.5 H 662"/></g>
<g id="f2a"><text x="690" y="2986">想想小公司也有优势</text><path class="u" d="M 688 2989.5 H 813.5"/></g>
<g id="f2b"><text class="d" x="690" y="3009">比如技能更全面</text><path class="u" d="M 688 3012.5 H 777"/></g>
<g id="f2c"><text class="d" x="690" y="3032">更接地气、晋升机会更多。</text><path class="u" d="M 688 3035.5 H 839.5"/></g>
<g id="f3"><text x="566.5" y="3055">关于选择名企还是外企，没那么多纠结</text><path class="u" d="M 564.5 3058.5 H 798.5"/></g>
<g id="f4"><text x="566.5" y="3111">不知名外企＝</text><path class="u" d="M 564.5 3114.5 H 675"/></g>
<g id="f4a"><text x="704.5" y="3076.5">知名创业公司</text><path class="u" d="M 702.5 3080 H 782"/></g>
<g id="f4b"><text x="704.5" y="3099">知名民营企业</text><path class="u" d="M 702.5 3102.5 H 784.5"/></g>
<g id="f4c"><text x="704.5" y="3120.5">知名外企</text><path class="u" d="M 702.5 3124 H 756.5"/></g>
<g id="f4d"><text x="704.5" y="3143">不知名民企</text><path class="u" d="M 702.5 3146.5 H 771"/></g>
<g id="a11"><text class="b" x="470" y="3350.5">跳槽时机</text></g>
<g id="g1"><text x="580.5" y="3171">于公于私，稳定都是好事。</text><path class="u" d="M 578.5 3174.5 H 744"/></g>
<g id="g2"><text x="580.5" y="3193.5">不建议工作不到一年就跳槽，更不赞成单纯为了涨薪就跳槽。</text><path class="u" d="M 578.5 3197 H 948"/></g>
<g id="g3"><text x="580.5" y="3275.5">但是，并非越稳定越好</text><path class="u" d="M 578.5 3279 H 743.5"/></g>
<g id="g3a"><text x="772" y="3261.5">同一份工作做久了（年限不确定）</text><path class="u" d="M 770 3265 H 1002.5"/></g>
<g id="g3a1"><text x="1032" y="3215.5">工资增长</text><path class="u" d="M 1030 3219 H 1086.5"/></g>
<g id="g3a2"><text class="d" x="1032" y="3237.5">职位晋升</text><path class="u" d="M 1030 3241 H 1082"/></g>
<g id="g3a3"><text class="d" x="1032" y="3260.5">扩充知识</text><path class="u" d="M 1030 3264 H 1080.5"/></g>
<g id="g3a4"><text class="d" x="1032" y="3283.5">积累经验</text><path class="u" d="M 1030 3287 H 1082"/></g>
<g id="g3a5"><text x="1032" y="3306.5">都不如跳槽来得快</text><path class="u" d="M 1030 3310 H 1140"/></g>
<g id="g3b"><text x="772" y="3329.5">甚至会被企业质疑是否能力不足才没有跳槽</text><path class="u" d="M 770 3333 H 1034"/></g>
<g id="g4"><text x="580.5" y="3435">符合以下情形越多，越是理想的跳槽时机</text><path class="u" d="M 578.5 3438.5 H 852.5"/></g>
<g id="g4a"><text x="880.5" y="3356.5">1、同一家单位工作3年以上，仍没有晋升到管理层</text><path class="u" d="M 878.5 3360 H 1184"/></g>
<g id="g4b"><text x="880.5" y="3379">2、已到天花板，不可能再获得晋升</text><path class="u" d="M 878.5 3382.5 H 1093.5"/></g>
<g id="g4c"><text x="880.5" y="3401.5">3、服务2年，没有加薪</text><path class="u" d="M 878.5 3405 H 1020.5"/></g>
<g id="g4d"><text x="880.5" y="3435">4、出现了极好的外部机会</text><path class="u" d="M 878.5 3438.5 H 1067"/></g>
<g id="g4d1"><text x="1098" y="3423">极好指未来3年清晰可见的收入增长和职位晋升</text><path class="u" d="M 1096 3426.5 H 1380"/></g>
<g id="g4d2"><text x="1098" y="3446">只是单纯加薪，不算好机会</text><path class="u" d="M 1096 3449.5 H 1264"/></g>
<g id="g4e"><text x="880.5" y="3468">5、与大老板和直接领导明显合不来</text><path class="u" d="M 878.5 3471.5 H 1093.5"/></g>
<g id="g4f"><text x="880.5" y="3490">6、公司处于衰败期，且你不打算同舟共济</text><path class="u" d="M 878.5 3493.5 H 1134"/></g>
<g id="g4g"><text x="880.5" y="3512.5">7、到了实现下个阶段目标的时机，公司无法支持</text><path class="u" d="M 878.5 3516 H 1176"/></g>
<g id="a12"><text class="b" x="470" y="3778">态度</text></g>
<g id="h1"><text x="552.5" y="3553">有种思想认为</text><path class="u" d="M 550.5 3556.5 H 662"/></g>
<g id="h1a"><text class="d" x="690" y="3540">计划赶不上变化</text><path class="u" d="M 688 3543.5 H 778.5"/></g>
<g id="h1b"><text class="d" x="690" y="3563">定计划没用</text><path class="u" d="M 688 3566.5 H 753"/></g>
<g id="h2"><text x="552.5" y="3602.5">反问一句</text><path class="u" d="M 550.5 3606 H 635.5"/></g>
<g id="h2a"><text x="663.5" y="3590.5">不定计划</text><path class="u" d="M 661.5 3594 H 718.5"/></g>
<g id="h2b"><text x="663.5" y="3613.5">一样会变化，又如何应对？</text><path class="u" d="M 661.5 3617 H 829"/></g>
<g id="h3"><text x="552.5" y="3680.5">不敢定计划</text><path class="u" d="M 550.5 3684 H 648.5"/></g>
<g id="h3a"><text x="677.5" y="3640.5">本质是对变化感到恐惧</text><path class="u" d="M 675.5 3644 H 813.5"/></g>
<g id="h3b"><text x="677.5" y="3663.5">是没有信心完成计划</text><path class="u" d="M 675.5 3667 H 830"/></g>
<g id="h3b1"><text x="856" y="3663.5">所以选择逃避</text><path class="u" d="M 854 3667 H 939"/></g>
<g id="h3c"><text x="677.5" y="3708">逃避不会改变现实</text><path class="u" d="M 675.5 3711.5 H 813.5"/></g>
<g id="h3c1"><text x="842" y="3697">只会在突发而至的变化前手足无措</text><path class="u" d="M 840 3700.5 H 1046"/></g>
<g id="h3c2"><text x="842" y="3718.5">连抗争的机会都没有</text><path class="u" d="M 840 3722 H 965"/></g>
<g id="h4"><text x="552.5" y="3861.5">制定计划</text><path class="u" d="M 550.5 3865 H 635.5"/></g>
<g id="h4a"><text x="663.5" y="3746.5">本来就应该考虑变化和失败</text><path class="u" d="M 661.5 3750 H 850"/></g>
<g id="h4a1"><text x="884" y="3746.5">提前制定后备方案</text><path class="u" d="M 882 3750 H 993"/></g>
<g id="h4b"><text x="663.5" y="3802.5">即使变化影响了既定计划</text><path class="u" d="M 661.5 3806 H 842"/></g>
<g id="h4b1"><text x="870" y="3779.5">只要大方向不变</text><path class="u" d="M 868 3783 H 965.5"/></g>
<g id="h4b2"><text class="d" x="870" y="3802.5">依然能通过其他方法实现目标。</text><path class="u" d="M 868 3806 H 1042"/></g>
<g id="h4b3"><text x="870" y="3824.5">直面恐惧，绝不逃避。</text><path class="u" d="M 868 3828 H 1006.5"/></g>
<g id="h4c"><text x="663.5" y="3875.5">过什么样的生活</text><path class="u" d="M 661.5 3879 H 787"/></g>
<g id="h4c1"><text x="815" y="3851">是个人权利</text><path class="u" d="M 813 3854.5 H 884"/></g>
<g id="h4c2"><text class="d" x="815" y="3874.5">可以胸怀大志</text><path class="u" d="M 813 3878 H 891.5"/></g>
<g id="h4c3"><text class="d" x="815" y="3898.5">可以随遇而安。</text><path class="u" d="M 813 3902 H 903.5"/></g>
<g id="h4d"><text x="663.5" y="3948.5">但是</text><path class="u" d="M 661.5 3952 H 720"/></g>
<g id="h4d1"><text x="747.5" y="3925.5">一定要明白</text><path class="u" d="M 745.5 3929 H 816"/></g>
<g id="h4d2"><text x="747.5" y="3948">选择了什么样的人生</text><path class="u" d="M 745.5 3951.5 H 871.5"/></g>
<g id="h4d3"><text class="d" x="747.5" y="3971">，要付出什么样的代价</text><path class="u" d="M 745.5 3974.5 H 872.5"/></g>
<g id="h5"><text x="552.5" y="3993.5">胸怀大志，却眼高手低，最可悲。</text><path class="u" d="M 550.5 3997 H 757.5"/></g>
<g id="a13"><text class="b" x="470" y="4296">机会</text></g>
<g id="i1"><text x="552.5" y="4021">人一辈子总有那么几次好机会</text><path class="u" d="M 550.5 4024.5 H 730"/></g>
<g id="i2"><text class="d" x="552.5" y="4043.5">能不能抓住</text><path class="u" d="M 550.5 4047 H 616"/></g>
<g id="i3"><text class="d" x="552.5" y="4090.5">不取决于想不想</text><path class="u" d="M 550.5 4094 H 667"/></g>
<g id="i3a"><text class="d" x="695.5" y="4066.5">而是取决于眼界</text><path class="u" d="M 693.5 4070 H 783.5"/></g>
<g id="i3b"><text class="d" x="695.5" y="4089.5">勇气</text><path class="u" d="M 693.5 4093 H 720"/></g>
<g id="i3c"><text class="d" x="695.5" y="4113.5">富人思维</text><path class="u" d="M 693.5 4117 H 747.5"/></g>
<g id="i4"><text x="552.5" y="4187">眼界</text><path class="u" d="M 550.5 4190.5 H 608.5"/></g>
<g id="i4a"><text x="636.5" y="4141">机会来了，怎么知道它是个好机会？</text><path class="u" d="M 634.5 4144.5 H 856"/></g>
<g id="i4b"><text x="636.5" y="4163">15年前，谁知道电子商务是个好机会？</text><path class="u" d="M 634.5 4166.5 H 871.5"/></g>
<g id="i4c"><text x="636.5" y="4209">不随波逐流</text><path class="u" d="M 634.5 4212.5 H 732"/></g>
<g id="i4c1"><text x="761.5" y="4185.5">拥有独立思考能力</text><path class="u" d="M 759.5 4189 H 870"/></g>
<g id="i4c2"><text class="d" x="761.5" y="4208">同时虚心听取有经验之人的建议</text><path class="u" d="M 759.5 4211.5 H 935"/></g>
<g id="i4c3"><text class="d" x="761.5" y="4231.5">才有识别机会的能力。</text><path class="u" d="M 759.5 4235 H 885"/></g>
<g id="i5"><text x="552.5" y="4299">勇气</text><path class="u" d="M 550.5 4302.5 H 608.5"/></g>
<g id="i5a"><text x="636.5" y="4271">机会和风险是并存的</text><path class="u" d="M 634.5 4274.5 H 787"/></g>
<g id="i5a1"><text x="816" y="4260">不确定回报的时候</text><path class="u" d="M 814 4263.5 H 925"/></g>
<g id="i5a2"><text x="816" y="4282">愿意冒险尝试吗？</text><path class="u" d="M 814 4285.5 H 926"/></g>
<g id="i5b"><text x="636.5" y="4321">勇气无技巧可言</text><path class="u" d="M 634.5 4324.5 H 760.5"/></g>
<g id="i5b1"><text x="789" y="4309">脚一跺、</text><path class="u" d="M 787 4312.5 H 844.5"/></g>
<g id="i5b2"><text class="d" x="789" y="4331.5">心一横，干！</text><path class="u" d="M 787 4335 H 863.5"/></g>
<g id="i6"><text x="552.5" y="4460">富人思维</text><path class="u" d="M 550.5 4463.5 H 635"/></g>
<g id="i6a"><text x="663.5" y="4360">《穷爸爸富爸爸》</text><path class="u" d="M 661.5 4363.5 H 800"/></g>
<g id="i6a1"><text class="d" x="828" y="4360">Subtopic</text><path class="u" d="M 826 4363.5 H 883"/></g>
<g id="i6b"><text x="663.5" y="4451">有一个思想令我印象深刻</text><path class="u" d="M 661.5 4454.5 H 842"/></g>
<g id="i6b1"><text x="870" y="4393.5">钱省不出来，而是投资出来。</text><path class="u" d="M 868 4397 H 1047.5"/></g>
<g id="i6b2"><text class="d" x="870" y="4451">举一反三</text><path class="u" d="M 868 4454.5 H 948"/></g>
<g id="i6b2a"><text class="d" x="975" y="4415.5">机会也是如此。</text><path class="u" d="M 973 4419 H 1063.5"/></g>
<g id="i6b2b"><text class="d" x="975" y="4462.5">你花了多少时间金钱在</text><path class="u" d="M 973 4466 H 1126.5"/></g>
<g id="i6b2b1"><text class="d" x="1154.5" y="4440">游戏</text><path class="u" d="M 1152.5 4443.5 H 1182.5"/></g>
<g id="i6b2b2"><text class="d" x="1154.5" y="4462.5">交友</text><path class="u" d="M 1152.5 4466 H 1182.5"/></g>
<g id="i6b2b3"><text class="d" x="1154.5" y="4485.5">娱乐</text><path class="u" d="M 1152.5 4489 H 1182.5"/></g>
<g id="i6b3"><text class="d" x="870" y="4508.5">又花了多少时间金钱投资自己？</text><path class="u" d="M 868 4512 H 1043.5"/></g>
<g id="i6c"><text x="663.5" y="4531">投入和产出，总是呈现正比例关系。</text><path class="u" d="M 661.5 4534.5 H 883"/></g>
<g id="i6d"><text x="663.5" y="4553.5">最值得投资的，就是自己。</text><path class="u" d="M 661.5 4557 H 828"/></g>
</g>
</svg>
